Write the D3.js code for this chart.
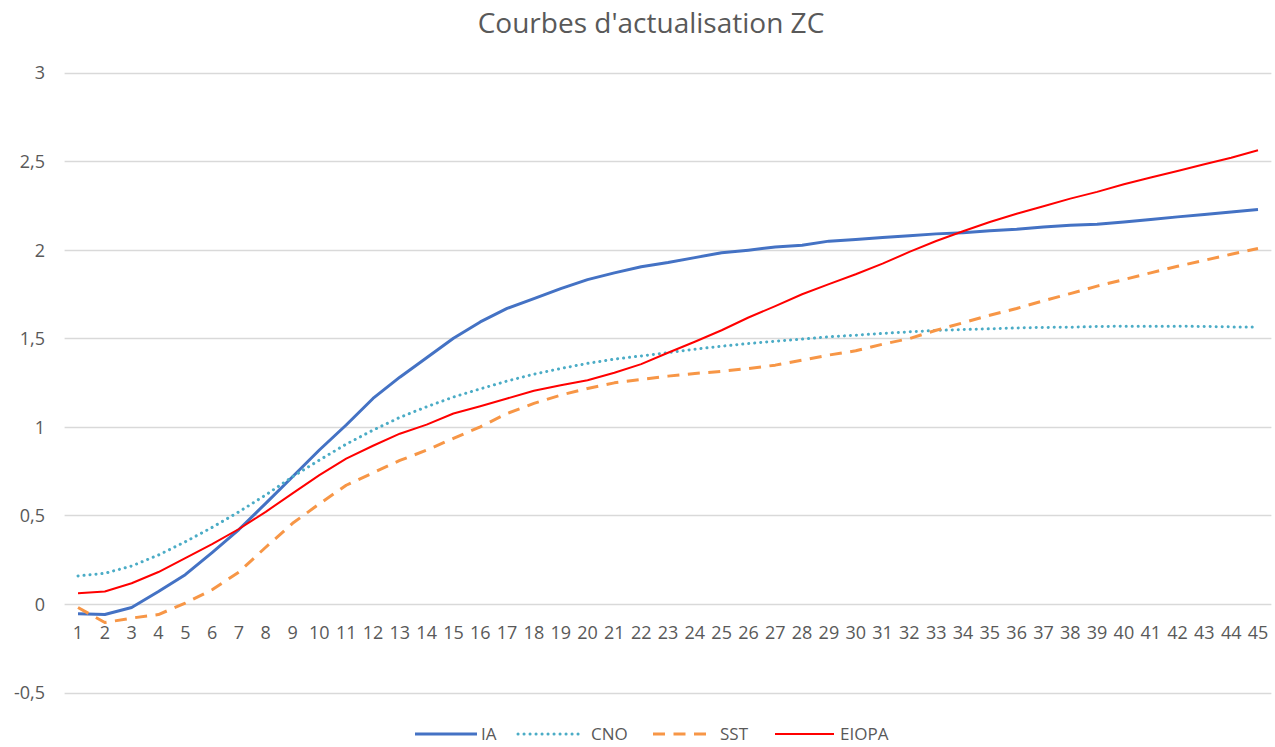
<!DOCTYPE html>
<html><head><meta charset="utf-8">
<script src="https://cdn.jsdelivr.net/npm/d3@7"></script>
<style>body{margin:0;background:#fff;}svg{display:block;}</style>
</head><body>
<script>
const categories = d3.range(1, 46);
const IA = [-0.055,-0.06,-0.02,0.07,0.165,0.29,0.42,0.568,0.718,0.869,1.01,1.16,1.28,1.39,1.50,1.592,1.668,1.724,1.78,1.831,1.869,1.903,1.927,1.955,1.982,1.997,2.015,2.025,2.048,2.057,2.068,2.079,2.089,2.096,2.106,2.115,2.128,2.138,2.143,2.156,2.17,2.185,2.198,2.213,2.226];
const CNO = [0.158,0.173,0.214,0.276,0.351,0.432,0.52,0.615,0.718,0.812,0.902,0.981,1.053,1.113,1.168,1.214,1.258,1.297,1.329,1.358,1.382,1.40,1.419,1.438,1.455,1.47,1.483,1.495,1.508,1.517,1.527,1.536,1.544,1.549,1.553,1.558,1.561,1.562,1.566,1.568,1.568,1.568,1.566,1.564,1.564];
const SST = [-0.02,-0.105,-0.08,-0.06,0.005,0.08,0.18,0.32,0.455,0.565,0.67,0.74,0.81,0.868,0.935,1.0,1.075,1.132,1.179,1.216,1.248,1.267,1.286,1.301,1.313,1.329,1.348,1.376,1.405,1.429,1.466,1.498,1.545,1.587,1.63,1.668,1.711,1.752,1.794,1.831,1.869,1.906,1.94,1.974,2.006];
const EIOPA = [0.06,0.07,0.117,0.18,0.258,0.337,0.423,0.52,0.624,0.727,0.82,0.893,0.961,1.012,1.075,1.116,1.16,1.203,1.235,1.263,1.305,1.354,1.418,1.48,1.545,1.617,1.681,1.748,1.805,1.861,1.921,1.987,2.049,2.104,2.156,2.203,2.245,2.288,2.326,2.369,2.407,2.444,2.482,2.519,2.561];
const yTicks = [-0.5,0,0.5,1,1.5,2,2.5,3];
const seriesNames = ["IA","CNO","SST","EIOPA"];
const seriesData = [IA, CNO, SST, EIOPA];

const W = 1275, H = 747;
const font = "'Open Sans', 'Noto Sans', sans-serif";
const svg = d3.select("body").append("svg").attr("width", W).attr("height", H);

const x = d3.scaleBand().domain(categories).range([64.6, 1271.4]);
const y = d3.scaleLinear().domain([-0.5, 3]).range([692.5, 72.5]);
const cx = d => x(d) + x.bandwidth() / 2;

svg.append("text").attr("x", 651).attr("y", 33).attr("text-anchor", "middle")
  .attr("font-family", font).attr("font-size", 28).attr("fill", "#595959")
  .text("Courbes d'actualisation ZC");

// gridlines
svg.append("g").selectAll("line").data(yTicks).join("line")
  .attr("x1", 64.6).attr("x2", 1271.4)
  .attr("y1", d => Math.round(y(d)) + 0.5).attr("y2", d => Math.round(y(d)) + 0.5)
  .attr("stroke", "#d9d9d9").attr("stroke-width", 1.5);

const fmt = d => String(d).replace(".", ",");
const yAxis = d3.axisLeft(y).tickValues(yTicks).tickFormat(fmt).tickSize(0).tickPadding(0);
const ya = svg.append("g").attr("transform", "translate(45,0)").call(yAxis);
ya.select(".domain").remove();
ya.selectAll("text").attr("font-family", font).attr("font-size", 18).attr("fill", "#595959").attr("dy", "0.36em");

const xAxis = d3.axisBottom(x).tickSize(0).tickPadding(0);
const xa = svg.append("g").attr("transform", `translate(0,${y(0)})`).call(xAxis);
xa.select(".domain").remove();
xa.selectAll("text").attr("font-family", font).attr("font-size", 18).attr("fill", "#595959")
  .attr("dy", null).attr("y", 35);

const styles = [
  {color: "#4472c4", width: 3, dash: null, cap: "butt"},
  {color: "#4bacc6", width: 3, dash: "0.1 5.9", cap: "round"},
  {color: "#f79646", width: 3, dash: "12 8.5", cap: "butt"},
  {color: "#ff0000", width: 2, dash: null, cap: "butt"}
];

const line = d3.line().x((d, i) => cx(categories[i])).y(d => y(d));
seriesData.forEach((s, k) => {
  const st = styles[k];
  svg.append("path").datum(s).attr("d", line).attr("fill", "none")
    .attr("stroke", st.color).attr("stroke-width", st.width)
    .attr("stroke-linejoin", "round").attr("stroke-linecap", st.cap)
    .attr("stroke-dasharray", st.dash);
});

// legend
const legX = [415, 518, 653, 775];
const legLen = [62, 64, 57, 59];
const legGap = [4, 9, 10, 6];
const lg = svg.append("g");
seriesNames.forEach((n, k) => {
  const st = styles[k];
  lg.append("line").attr("x1", legX[k]).attr("x2", legX[k] + legLen[k])
    .attr("y1", 734).attr("y2", 734)
    .attr("stroke", st.color).attr("stroke-width", st.width)
    .attr("stroke-linecap", st.cap).attr("stroke-dasharray", st.dash);
  lg.append("text").attr("x", legX[k] + legLen[k] + legGap[k]).attr("y", 734).attr("dy", "0.36em")
    .attr("font-family", font).attr("font-size", 17).attr("fill", "#595959").text(n);
});
</script>
</body></html>
